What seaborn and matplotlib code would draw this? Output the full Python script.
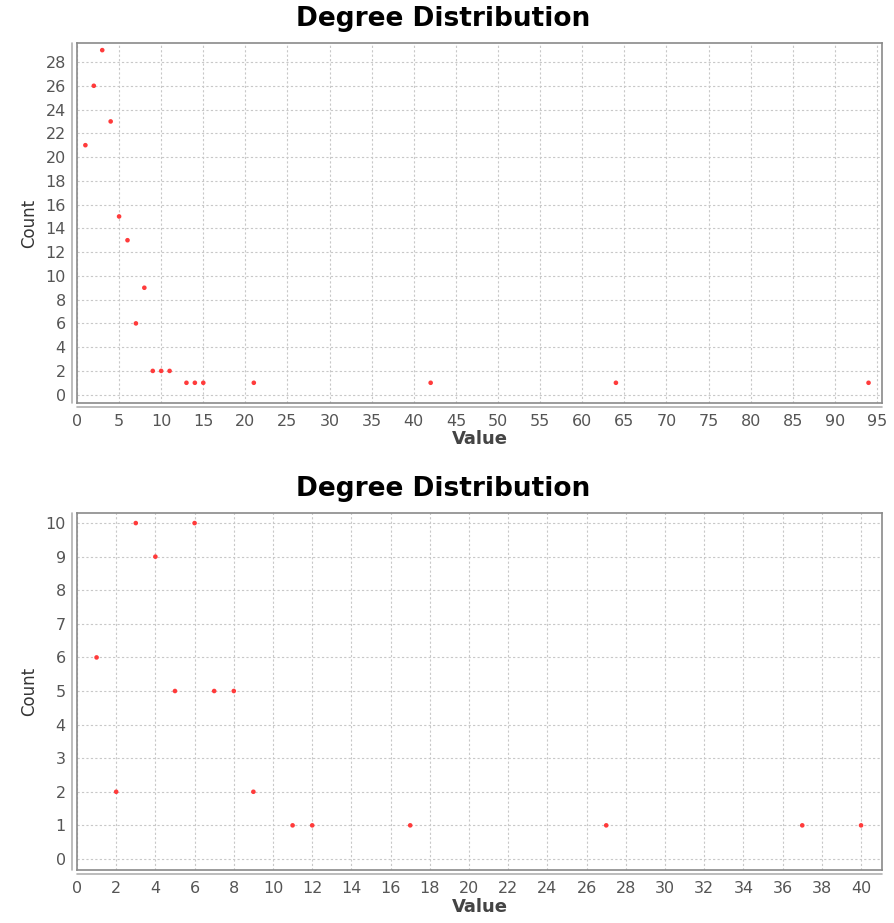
import matplotlib
matplotlib.use("Agg")
import matplotlib.pyplot as plt
import seaborn as sns
import pandas as pd
import numpy as np

sns.set_style("white")

# degree distribution, first network
top_value = [1, 2, 3, 4, 5, 6, 7, 8, 9, 10, 11, 13, 14, 15, 21, 42, 64, 94]
top_count = [21, 26, 29, 23, 15, 13, 6, 9, 2, 2, 2, 1, 1, 1, 1, 1, 1, 1]

# degree distribution, second network
bot_value = [1, 2, 3, 4, 5, 6, 7, 8, 9, 11, 12, 17, 27, 37, 40]
bot_count = [6, 2, 10, 9, 5, 10, 5, 5, 2, 1, 1, 1, 1, 1, 1]

top_xticks = list(range(0, 96, 5))
top_yticks = list(range(0, 29, 2))
bot_xticks = list(range(0, 41, 2))
bot_yticks = list(range(0, 11, 1))

RED = "#ff3b3b"
GRID = "#c8c8c8"
AXIS = "#8a8a8a"
TICK = "#555555"


def jfree_axes(ax, df, xlim, ylim, xticks, yticks):
    sns.scatterplot(data=df, x="Value", y="Count", ax=ax, color=RED,
                    s=11, marker="o", edgecolor="none", zorder=3)
    ax.set_xlim(*xlim)
    ax.set_ylim(*ylim)
    ax.set_xticks(xticks)
    ax.set_yticks(yticks)
    ax.grid(True, color=GRID, linestyle=(0, (2, 2)), linewidth=0.8)
    ax.set_axisbelow(True)
    for sp in ax.spines.values():
        sp.set_color(AXIS)
        sp.set_linewidth(1.2)
    ax.tick_params(axis="both", colors=AXIS, labelcolor=TICK, labelsize=11.5,
                   length=3, width=0.8, direction="out", pad=5)
    ax.set_xlabel("Value", fontsize=13, fontweight="bold", color="#444444",
                  labelpad=1)
    ax.set_ylabel("Count", fontsize=12, color="#333333", labelpad=5)
    # offset axis lines like the java chart
    ax.plot([-0.006, -0.006], [0, 1], transform=ax.transAxes, color="#b0b0b0",
            lw=1.2, clip_on=False)
    ax.plot([0, 1], [-0.012, -0.012], transform=ax.transAxes, color="#b0b0b0",
            lw=1.2, clip_on=False)


def main():
    fig = plt.figure(figsize=(8.94, 9.23), dpi=100)
    ax1 = fig.add_axes([0.0861, 0.5634, 0.9005, 0.3900])
    ax2 = fig.add_axes([0.0861, 0.0574, 0.9005, 0.3868])

    df1 = pd.DataFrame({"Value": top_value, "Count": top_count})
    df2 = pd.DataFrame({"Value": bot_value, "Count": bot_count})

    jfree_axes(ax1, df1, (0, 95.6), (-0.7, 29.6), top_xticks, top_yticks)
    jfree_axes(ax2, df2, (0, 41.07), (-0.33, 10.3), bot_xticks, bot_yticks)

    for ty in (19, 489):
        fig.text(0.496, 1 - ty / 923, "Degree Distribution", fontsize=19,
                 fontweight="heavy", color="black", ha="center", va="center")

    fig.savefig("out.png", dpi=100)


if __name__ == "__main__":
    main()
